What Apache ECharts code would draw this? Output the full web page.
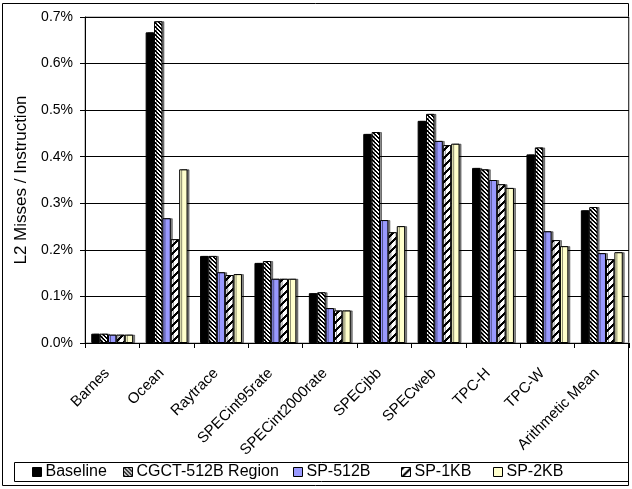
<!DOCTYPE html>
<html><head><meta charset="utf-8">
<script src="https://cdn.jsdelivr.net/npm/echarts@6/dist/echarts.min.js"></script>
<style>html,body{margin:0;padding:0;background:#fff}#c{width:632px;height:489px}</style>
</head><body><div id="c"></div>
<script>
const categories = ['Barnes','Ocean','Raytrace','SPECint95rate','SPECint2000rate','SPECjbb','SPECweb','TPC-H','TPC-W','Arithmetic Mean'];
const seriesNames = ['Baseline','CGCT-512B Region','SP-512B','SP-1KB','SP-2KB'];
const baseline = [0.020,0.667,0.187,0.172,0.107,0.449,0.477,0.376,0.405,0.285];
const cgct512 = [0.020,0.691,0.187,0.176,0.109,0.453,0.492,0.373,0.420,0.292];
const sp512 = [0.018,0.268,0.152,0.138,0.075,0.264,0.434,0.350,0.240,0.193];
const sp1kb = [0.018,0.223,0.146,0.138,0.070,0.238,0.425,0.341,0.221,0.180];
const sp2kb = [0.018,0.373,0.148,0.138,0.070,0.251,0.428,0.333,0.208,0.195];
const yTicks = [0,0.1,0.2,0.3,0.4,0.5,0.6,0.7];

function pattern(size, test){
  const cv = document.createElement('canvas'); cv.width=size; cv.height=size;
  const ctx = cv.getContext('2d');
  ctx.fillStyle='#fff'; ctx.fillRect(0,0,size,size);
  ctx.fillStyle='#000';
  for(let x=0;x<size;x++)for(let y=0;y<size;y++){ if(test(x,y)) ctx.fillRect(x,y,1,1); }
  return {image: cv, repeat:'repeat'};
}
const hatchDense = pattern(4,(x,y)=>(((x-y)%4)+4)%4<2);
const hatchWide = pattern(8,(x,y)=>((x+y)%8)<3);
const fills = ['#000000', hatchDense, '#9999FF', hatchWide, '#FFFFCC'];
const datas = [baseline,cgct512,sp512,sp1kb,sp2kb];
const font = 'Liberation Sans, Arial, sans-serif';

const chart = echarts.init(document.getElementById('c'));
const legendX = [32,123,293,401,493];
chart.setOption({
  animation:false,
  grid:{left:85,top:17,right:3,bottom:146,show:true,borderColor:'#888',borderWidth:1},
  xAxis:{type:'category',data:categories,
    axisLine:{lineStyle:{color:'#000',width:1}},
    axisTick:{show:true,length:5,lineStyle:{color:'#000'},alignWithLabel:false},
    axisLabel:{rotate:45,fontSize:15,fontFamily:font,color:'#000',interval:0,margin:23,padding:[0,7,0,0]}},
  yAxis:{type:'value',min:0,max:0.7,interval:0.1,
    name:'L2 Misses / Instruction',nameLocation:'middle',nameRotate:90,nameGap:50,
    nameTextStyle:{fontSize:17,fontFamily:font,color:'#000'},
    axisLine:{show:true,lineStyle:{color:'#000'}},
    axisTick:{show:true,length:5,lineStyle:{color:'#000'}},
    splitLine:{lineStyle:{color:'#000',width:1}},
    axisLabel:{fontSize:14,fontFamily:font,color:'#000',margin:12,
      formatter:v=>v.toFixed(1)+'%'}},
  legend: seriesNames.map((n,i)=>({data:[n],left:legendX[i],top:464,itemWidth:9,itemHeight:9,itemGap:0,
    textStyle:{fontSize:16,fontFamily:font,color:'#000',padding:[0,0,0,-1]},
    icon:'rect',itemStyle:{borderColor:'#000',borderWidth:1},padding:0})),
  graphic:[
    {type:'rect',shape:{x:2.5,y:3.5,width:626,height:482},style:{fill:'none',stroke:'#000',lineWidth:1},z:-1},
    {type:'rect',shape:{x:14.5,y:462.5,width:614,height:19},style:{fill:'none',stroke:'#000',lineWidth:1}}
  ],
  series: seriesNames.map((n,i)=>({
    name:n,type:'bar',data:datas[i],barGap:'0%',barCategoryGap:'23%',
    itemStyle:{color:fills[i],borderColor:'#000',borderWidth:1,
      shadowColor:'rgba(0,0,0,0.45)',shadowOffsetX:2,shadowOffsetY:0,shadowBlur:0}
  }))
});
</script></body></html>
